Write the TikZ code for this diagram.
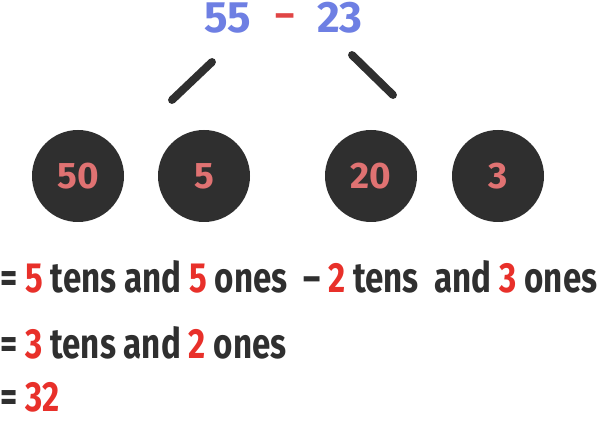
\documentclass[tikz,border=0pt]{standalone}
\usepackage{fontspec}
\usepackage{xcolor}
\newfontfamily\handfont[FakeStretch=0.785]{Fira Sans}
\newfontfamily\roundfont{Fira Sans}
\definecolor{numblue}{HTML}{6E7FE3}
\definecolor{digitred}{HTML}{E8302A}
\definecolor{minusred}{HTML}{E04545}
\definecolor{ballpink}{HTML}{E07272}
\definecolor{inkdark}{HTML}{2F2F2F}
\newcommand{\rd}[1]{\textcolor{digitred}{#1}}

\begin{document}
\begin{tikzpicture}[
  ball/.style={circle, fill=inkdark, minimum size=1.84cm, inner sep=0pt, text=ballpink, font=\roundfont\bfseries\fontsize{21}{25}\selectfont},
  title/.style={text=numblue, font=\roundfont\bfseries\fontsize{25}{30}\selectfont},
  branch/.style={inkdark, line width=4.5pt, line cap=round},
  sumline/.style={anchor=base west, inner sep=0pt, text=inkdark, font=\handfont\bfseries\fontsize{24}{28}\selectfont}
]
\useasboundingbox (0,0) rectangle (12.1,8.52);

% Top: the subtraction
\node[title] (top-a) at (4.56,8.16) {55};
\node[text=minusred, font=\roundfont\bfseries\fontsize{21}{24}\selectfont] (top-op) at (5.70,8.10) {–};
\node[title] (top-b) at (6.80,8.16) {23};

% Branches
\coordinate (left-top) at (4.24,7.28);
\coordinate (left-end) at (3.44,6.52);
\coordinate (right-top) at (7.04,7.42);
\coordinate (right-end) at (7.86,6.62);
\draw[branch] (left-top) -- (left-end);
\draw[branch] (right-top) -- (right-end);

% Tens and ones
\node[ball] (tens-a) at (1.56,5.0) {50};
\node[ball] (ones-a) at (4.08,5.0) {5};
\node[ball] (tens-b) at (7.42,5.0) {20};
\node[ball] (ones-b) at (9.96,5.0) {3};

% Working
\node[sumline] (line-one) at (0,2.66) {= \rd{5} tens and \rd{5} ones\ \ – \rd{2} tens\ \ and \rd{3} ones};
\node[sumline] (line-two) at (0,1.34) {= \rd{3} tens and \rd{2} ones};
\node[sumline] (line-three) at (0,0.28) {= \rd{32}};
\end{tikzpicture}
\end{document}
